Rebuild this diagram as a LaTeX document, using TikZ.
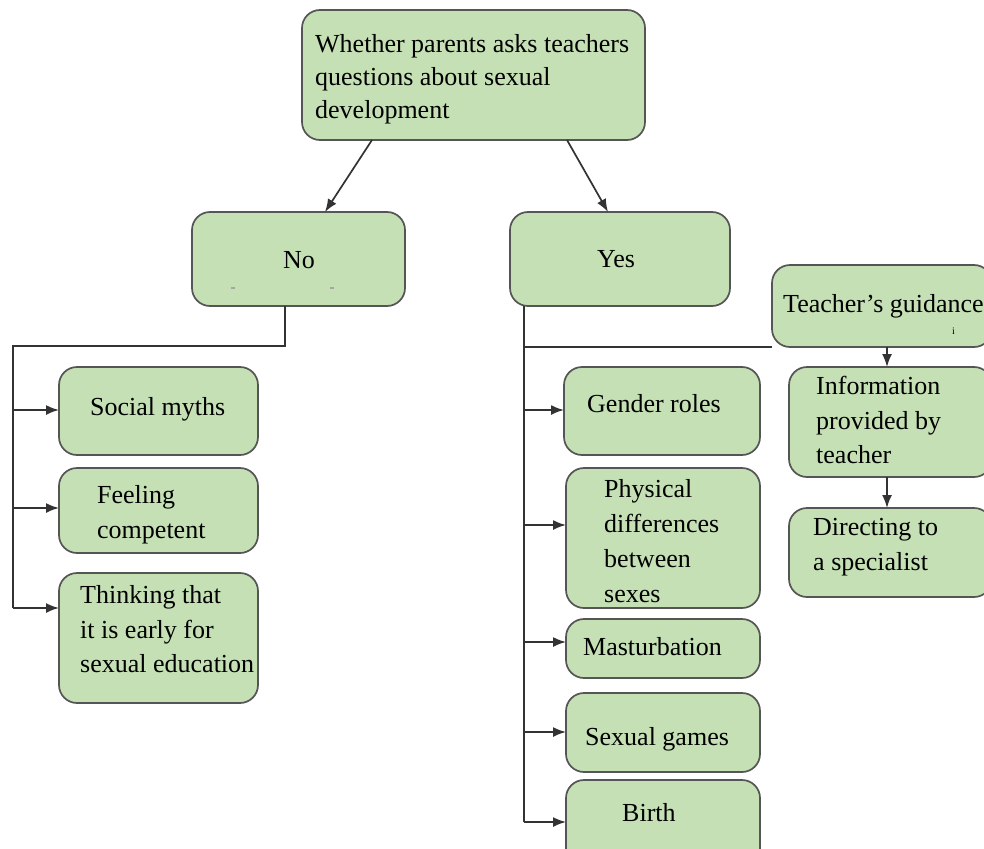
\documentclass[tikz,border=0pt]{standalone}
\usepackage{fontspec}
\setmainfont{Liberation Serif}
\usetikzlibrary{arrows.meta,calc}
\definecolor{boxfill}{HTML}{C5E0B4}
\definecolor{boxline}{HTML}{555555}
\definecolor{conn}{HTML}{333333}
\tikzset{
  box/.style={draw=boxline, line width=1.7pt, fill=boxfill, rounded corners=18pt, inner sep=0pt, outer sep=0pt, anchor=north west},
  txt/.style={anchor=base west, inner sep=0pt, font=\fontsize{26}{33}\selectfont},
  wire/.style={draw=conn, line width=1.7pt},
  arr/.style={wire, -{Latex[length=13pt,width=10pt]}},
}
\newcommand{\mybox}[5]{\node[box, minimum width=#4pt-#2pt, minimum height=#5pt-#3pt] (#1) at (#2,#3) {};}
\begin{document}
\begin{tikzpicture}[x=1pt,y=-1pt]
\useasboundingbox (0,0) rectangle (984,848);
\clip (0,0) rectangle (984,848);
% boxes
\mybox{top}{302}{10}{645}{140}
\mybox{no}{192}{212}{405}{306}
\mybox{yes}{510}{212}{730}{306}
\mybox{guid}{772}{265}{992}{347}
\mybox{social}{59}{367}{258}{455}
\mybox{feeling}{59}{468}{258}{553}
\mybox{thinking}{59}{573}{258}{703}
\mybox{gender}{564}{367}{760}{455}
\mybox{physical}{566}{468}{760}{608}
\mybox{mast}{566}{619}{760}{678}
\mybox{games}{566}{693}{760}{772}
\mybox{birth}{566}{780}{760}{870}
\mybox{info}{789}{367}{992}{477}
\mybox{direct}{789}{508}{992}{597}
% texts
\node[txt] (t1) at (315,53) {Whether parents asks teachers};
\node[txt] (t2) at (315,86) {questions about sexual};
\node[txt] (t3) at (315,118) {development};
\node[txt] (tno) at (283,268) {No};
\node[txt] (tyes) at (597,267) {Yes};
\node[txt] (tguid) at (783,312) {Teacher's guidance};
\node[anchor=base west, inner sep=0pt, font=\fontsize{10}{10}\selectfont] (ti) at (952,334) {i};
\node[inner sep=0pt, fill=gray!70, minimum width=4pt, minimum height=1.5pt] (d1) at (233,288) {};
\node[inner sep=0pt, fill=gray!70, minimum width=4pt, minimum height=1.5pt] (d2) at (332,288) {};
\node[txt] (tsoc) at (90,415) {Social myths};
\node[txt] (tf1) at (97,503) {Feeling};
\node[txt] (tf2) at (97,538) {competent};
\node[txt] (th1) at (80,603) {Thinking that};
\node[txt] (th2) at (80,638) {it is early for};
\node[txt] (th3) at (80,672) {sexual education};
\node[txt] (tgen) at (587,412) {Gender roles};
\node[txt] (tp1) at (604,497) {Physical};
\node[txt] (tp2) at (604,532) {differences};
\node[txt] (tp3) at (604,567) {between};
\node[txt] (tp4) at (604,602) {sexes};
\node[txt] (tm) at (583,655) {Masturbation};
\node[txt] (tsg) at (585,745) {Sexual games};
\node[txt] (tb) at (622,821) {Birth};
\node[txt] (ti1) at (816,394) {Information};
\node[txt] (ti2) at (816,429) {provided by};
\node[txt] (ti3) at (816,463) {teacher};
\node[txt] (td1) at (813,535) {Directing to};
\node[txt] (td2) at (813,570) {a specialist};
% connectors from top
\draw[arr] ([xshift=70pt]top.south west) -- ([xshift=133pt]no.north west);
\draw[arr] ([xshift=265pt]top.south west) -- ([xshift=98pt]yes.north west);
% No branch
\coordinate (nA) at (285,346);
\coordinate (nL) at (13,346);
\coordinate (nS) at (13,410);
\coordinate (nF) at (13,508);
\coordinate (nB) at (13,608);
\draw[wire] ([xshift=93pt]no.south west) -- (nA) -- (nL) -- (nB);
\draw[arr] (nS) -- (nS -| social.west);
\draw[arr] (nF) -- (nF -| feeling.west);
\draw[arr] (nB) -- (nB -| thinking.west);
% Yes branch
\coordinate (yT) at ($(yes.south west)+(14,0)$);
\coordinate (yH) at (524,347);
\coordinate (yB) at (524,822);
\coordinate (yG) at (524,410);
\coordinate (yP) at (524,525);
\coordinate (yM) at (524,642);
\coordinate (yS) at (524,732);
\draw[wire] (yT) -- (yB);
\draw[wire] (yH) -- (yH -| guid.west);
\draw[arr] (yG) -- (yG -| gender.west);
\draw[arr] (yP) -- (yP -| physical.west);
\draw[arr] (yM) -- (yM -| mast.west);
\draw[arr] (yS) -- (yS -| games.west);
\draw[arr] (yB) -- (yB -| birth.west);
% teacher chain
\coordinate (gA) at (887,347);
\draw[arr] (gA) -- (gA |- info.north);
\draw[arr] (gA |- info.south) -- (gA |- direct.north);
\end{tikzpicture}
\end{document}
